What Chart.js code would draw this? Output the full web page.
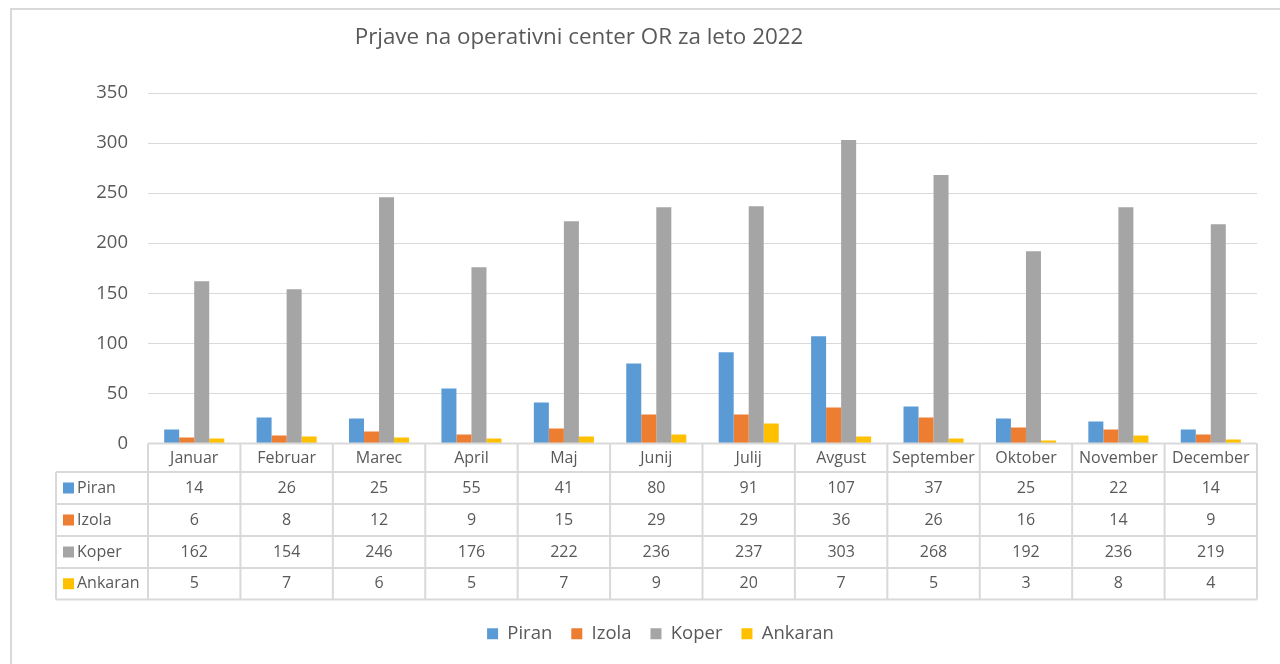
<!DOCTYPE html>
<html>
<head>
<meta charset="utf-8">
<script src="https://cdn.jsdelivr.net/npm/chart.js@4"></script>
<style>
html,body{margin:0;padding:0;background:#fff;overflow:hidden;}
#wrap{width:1280px;height:670px;position:relative;}
</style>
</head>
<body>
<div id="wrap"><canvas id="c"></canvas></div>
<script>
const chartTitle = 'Prjave na operativni center OR za leto 2022';
const categories = ['Januar','Februar','Marec','April','Maj','Junij','Julij','Avgust','September','Oktober','November','December'];
const seriesNames = ['Piran','Izola','Koper','Ankaran'];
const piran   = [14, 26, 25, 55, 41, 80, 91, 107, 37, 25, 22, 14];
const izola   = [6, 8, 12, 9, 15, 29, 29, 36, 26, 16, 14, 9];
const koper   = [162, 154, 246, 176, 222, 236, 237, 303, 268, 192, 236, 219];
const ankaran = [5, 7, 6, 5, 7, 9, 20, 7, 5, 3, 8, 4];
const yTicks  = [0, 50, 100, 150, 200, 250, 300, 350];

const colors = ['#5B9BD5','#ED7D31','#A5A5A5','#FFC000'];
const seriesValues = [piran, izola, koper, ankaran];
const textColor = '#595959';
const lineColor = '#d9d9d9';
const FONT = '"Open Sans", "DejaVu Sans", sans-serif';

const framePlugin = {
  id: 'frame',
  beforeDraw(chart) {
    const ctx = chart.ctx;
    ctx.save();
    ctx.fillStyle = '#fff';
    ctx.fillRect(0, 0, chart.width, chart.height);
    ctx.strokeStyle = lineColor;
    ctx.lineWidth = 2;
    ctx.strokeRect(11, 9, 1400, 800);
    ctx.fillStyle = textColor;
    ctx.font = '22.4px ' + FONT;
    ctx.textAlign = 'center';
    ctx.textBaseline = 'middle';
    ctx.fillText(chartTitle, 579, 38);
    ctx.restore();
  }
};

const tablePlugin = {
  id: 'dataTable',
  afterDraw(chart) {
    const ctx = chart.ctx;
    const x = chart.scales.x;
    const n = categories.length;
    const left = x.left, right = x.right;
    const cw = (right - left) / n;
    const top = chart.chartArea.bottom;
    const labelLeft = 56;
    const rows = [top, top + 28.5, top + 60.5, top + 92.5, top + 124.5, top + 156];
    ctx.save();
    ctx.strokeStyle = lineColor;
    ctx.lineWidth = 2;
    ctx.beginPath();
    ctx.moveTo(left, rows[0]); ctx.lineTo(right, rows[0]);
    for (let r = 1; r < rows.length; r++) {
      ctx.moveTo(labelLeft, rows[r]); ctx.lineTo(right, rows[r]);
    }
    ctx.moveTo(labelLeft, rows[1]); ctx.lineTo(labelLeft, rows[rows.length - 1]);
    for (let i = 0; i <= n; i++) {
      const xx = left + i * cw;
      ctx.moveTo(xx, rows[0]); ctx.lineTo(xx, rows[rows.length - 1]);
    }
    ctx.stroke();
    ctx.font = '16px ' + FONT;
    ctx.textBaseline = 'middle';
    for (let s = 0; s < seriesValues.length; s++) {
      const cy = (rows[s + 1] + rows[s + 2]) / 2;
      ctx.fillStyle = colors[s];
      ctx.fillRect(labelLeft + 7, cy - 5.5, 11, 11);
      ctx.fillStyle = textColor;
      ctx.textAlign = 'left';
      ctx.fillText(seriesNames[s], labelLeft + 21, cy);
      ctx.textAlign = 'center';
      for (let i = 0; i < n; i++) {
        ctx.fillText(String(seriesValues[s][i]), x.getPixelForValue(i), cy);
      }
    }
    ctx.restore();
  }
};

new Chart(document.getElementById('c'), {
  type: 'bar',
  data: {
    labels: categories,
    datasets: seriesNames.map((name, i) => ({
      label: name,
      data: seriesValues[i],
      backgroundColor: colors[i],
      borderWidth: 0,
      barPercentage: 1,
      categoryPercentage: 0.65
    }))
  },
  options: {
    responsive: true,
    maintainAspectRatio: false,
    animation: false,
    layout: { padding: { top: 93, left: 64, right: 23, bottom: 17 } },
    plugins: {
      title: { display: false },
      tooltip: { enabled: true },
      legend: {
        position: 'bottom',
        labels: {
          boxWidth: 11,
          boxHeight: 11,
          padding: 19,
          color: textColor,
          font: { family: FONT, size: 18.5 }
        }
      }
    },
    scales: {
      x: {
        grid: { display: false, drawTicks: false },
        border: { display: false },
        ticks: {
          color: textColor,
          font: { family: FONT, size: 16 },
          padding: 5,
          autoSkip: false,
          maxRotation: 0,
          minRotation: 0
        },
        afterFit(scale) { scale.height = 162; }
      },
      y: {
        min: 0,
        max: 350,
        afterBuildTicks(scale) { scale.ticks = yTicks.map(v => ({ value: v })); },
        grid: { color: lineColor, lineWidth: 1, drawTicks: false },
        border: { display: false },
        ticks: {
          color: textColor,
          font: { family: FONT, size: 18.5 },
          padding: 20
        },
        afterFit(scale) { scale.width = 84; }
      }
    }
  },
  plugins: [framePlugin, tablePlugin]
});
</script>
</body>
</html>
